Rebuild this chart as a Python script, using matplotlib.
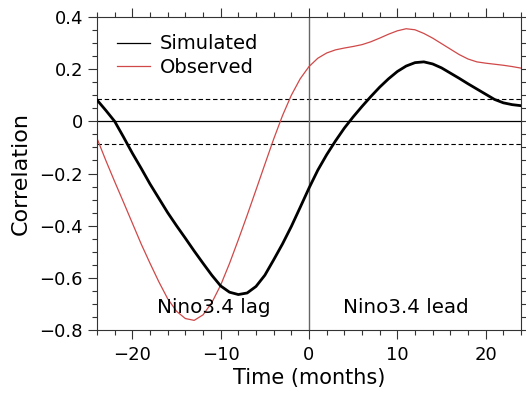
import numpy as np
import matplotlib
matplotlib.use("Agg")
import matplotlib.pyplot as plt
from matplotlib.lines import Line2D
from matplotlib.ticker import MultipleLocator

lags = list(range(-24, 25))
simulated = [0.082, 0.042, 0.0, -0.06, -0.122, -0.18, -0.24, -0.295, -0.35, -0.40,
             -0.448, -0.497, -0.544, -0.59, -0.631, -0.655, -0.664, -0.658, -0.633, -0.59,
             -0.531, -0.47, -0.403, -0.33, -0.256, -0.187, -0.128, -0.075, -0.026, 0.017,
             0.057, 0.095, 0.131, 0.163, 0.191, 0.212, 0.225, 0.228, 0.22, 0.205,
             0.185, 0.165, 0.144, 0.124, 0.104, 0.084, 0.071, 0.064, 0.06]
observed = [-0.065, -0.15, -0.231, -0.31, -0.39, -0.47, -0.544, -0.615, -0.68, -0.728,
            -0.756, -0.763, -0.742, -0.695, -0.628, -0.545, -0.454, -0.36, -0.263, -0.165,
            -0.068, 0.022, 0.1, 0.163, 0.21, 0.242, 0.262, 0.274, 0.281, 0.287,
            0.294, 0.305, 0.319, 0.334, 0.347, 0.355, 0.351, 0.337, 0.319, 0.298,
            0.277, 0.256, 0.239, 0.228, 0.223, 0.219, 0.215, 0.21, 0.204]
sig_level = 0.085
series_labels = ["Simulated", "Observed"]
region_labels = ["Nino3.4 lag", "Nino3.4 lead"]

red = "#d04848"

fig = plt.figure(figsize=(5.26, 3.99), dpi=100)
ax = fig.add_axes([0.1844, 0.1729, 0.8061, 0.7845])

ax.axhline(0, color="black", lw=0.9, zorder=1)
ax.axhline(sig_level, color="black", lw=0.8, ls=(0, (4, 2.5)), zorder=1)
ax.axhline(-sig_level, color="black", lw=0.8, ls=(0, (4, 2.5)), zorder=1)
ax.axvline(0, color="#666666", lw=1.0, zorder=1)

ax.plot(lags, observed, color=red, lw=0.9, zorder=2, solid_joinstyle="round")
ax.plot(lags, simulated, color="black", lw=2.0, zorder=3, solid_joinstyle="round")

ax.set_xlim(-24, 24)
ax.set_ylim(-0.8, 0.4)
ax.xaxis.set_major_locator(MultipleLocator(10))
ax.xaxis.set_minor_locator(MultipleLocator(2))
ax.yaxis.set_major_locator(MultipleLocator(0.2))
ax.yaxis.set_minor_locator(MultipleLocator(0.05))

def yfmt(v, pos):
    if abs(v) < 1e-9:
        return "0"
    return ("%.1f" % v).replace("-", "\u2212")
def xfmt(v, pos):
    return ("%d" % round(v)).replace("-", "\u2212")
ax.yaxis.set_major_formatter(plt.FuncFormatter(yfmt))
ax.xaxis.set_major_formatter(plt.FuncFormatter(xfmt))

ax.tick_params(which="both", direction="out", top=True, right=True,
               labelsize=13, color="#333333", width=0.8)
ax.tick_params(which="major", length=6.5)
ax.tick_params(axis="x", which="major", pad=5)
ax.tick_params(which="minor", length=3.6)
for s in ax.spines.values():
    s.set_linewidth(0.8)
    s.set_color("#333333")

ax.set_xlabel("Time (months)", fontsize=15, labelpad=3)
ax.set_ylabel("Correlation", fontsize=16, labelpad=6)

ax.text(-10.8, -0.713, region_labels[0], fontsize=14.3, ha="center", va="center")
ax.text(11.0, -0.713, region_labels[1], fontsize=14.3, ha="center", va="center")

handles = [Line2D([], [], color="black", lw=0.9), Line2D([], [], color=red, lw=0.9)]
ax.legend(handles, series_labels, loc="upper left", frameon=False, fontsize=14,
          handlelength=1.7, handletextpad=0.5, labelspacing=0.22,
          bbox_to_anchor=(0.006, 1.0))

fig.savefig("out.png", dpi=100)
